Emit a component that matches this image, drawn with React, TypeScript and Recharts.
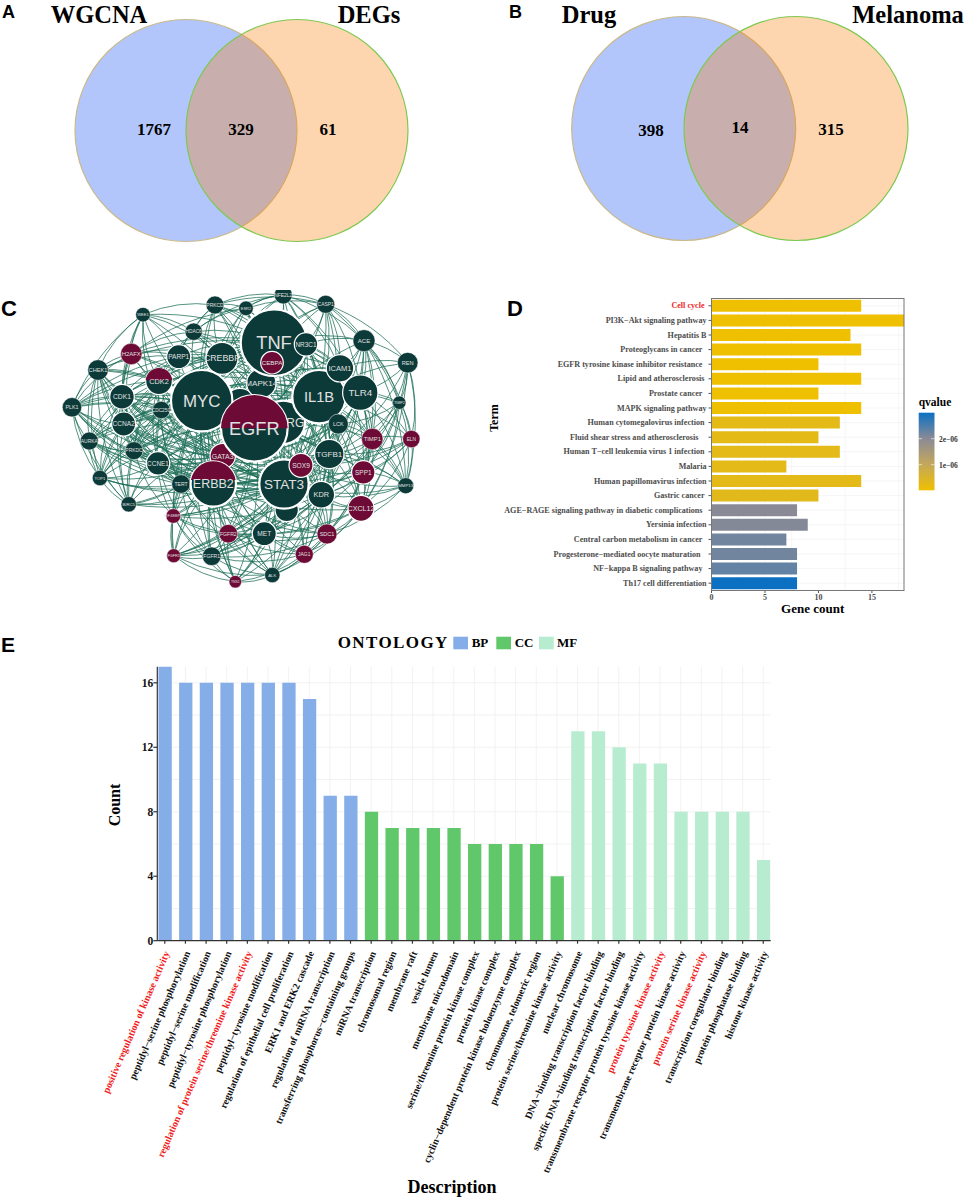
import React from 'react';
import {
  BarChart, Bar, Cell, XAxis, YAxis, ZAxis, CartesianGrid, ScatterChart, Scatter, ReferenceLine,
} from 'recharts';

const SERIF = '"Liberation Serif", serif';
const SANS = '"Liberation Sans", sans-serif';

// Panels A, B: venn sets (x, y in picture px, radius)
const vennLeft = [{ x: 186, y: 130.5, z: 111 * 111 }, { x: 683.7, y: 128.5, z: 112 * 112 }];
const vennRight = [{ x: 297, y: 130.5, z: 111 * 111 }, { x: 796, y: 128.5, z: 112 * 112 }];

// Panel C: network
const nodeNames = ['', '', 'NFE2L2', 'CASP1', 'PRKCD', 'ESR2', 'WEE1', 'HDAC6', 'RG', 'MAPK14', 'TNF', 'NR3C1', 'CEBPA', 'ACE', 'REN', 'H2AFX', 'PARP1', 'CREBBP', 'CHEK1', 'IL1B', 'ICAM1', 'TLR4', 'CDK2', 'MYC', 'CDK1', 'PLK1', 'TIMP2', 'CDC25C', 'GATA3', 'EGFR', 'CCNA2', 'LCK', 'TIMP1', 'ELN', 'AURKA', 'PRKDC', 'TGFB1', 'CCNE1', 'STAT3', 'SOX9', 'SPP1', 'TOP1', 'TERT', 'ERBB2', 'MMP13', 'KDR', 'BIRC5', 'CXCL12', 'EIF4EBP1', 'FGFR2', 'MET', 'SDC1', 'FGFR3', 'FGFR1', 'JAG1', 'ALK', 'TNS1'];
const nodeX = [240, 286.7, 283.3, 325.7, 215, 246, 143, 193.7, 283.3, 261.3, 274, 306, 272, 364, 407.7, 131.3, 178.7, 222, 98, 319, 340, 360.3, 159, 201.7, 122, 72, 399.3, 161.3, 222.7, 254.3, 123.7, 338.3, 372.3, 411.3, 89.3, 134, 329.3, 158, 284, 301, 363.3, 100, 181, 213.3, 405.7, 321.3, 128.7, 361, 173.3, 228.3, 264.3, 327, 173.7, 211.7, 304.3, 272.3, 235.3];
const nodeY = [403.3, 510, 295, 304.3, 305, 308.3, 314.7, 331.7, 422.3, 383.3, 342.7, 344.3, 362.7, 340.7, 362.7, 354, 356.7, 358.3, 370, 396.7, 368.3, 392.7, 381.3, 400.7, 396.7, 407.3, 402.7, 410, 456, 428.3, 424, 424, 439, 439, 441, 450.7, 454, 463.3, 484, 465.3, 472.3, 478, 484, 484, 485.7, 494.7, 504.3, 508.3, 516, 533.7, 533.7, 534, 555.7, 556.3, 554.3, 575, 581.7];
const nodeRadius = [15, 11.7, 9, 9, 9, 7.3, 7.3, 8.7, 21.7, 14.7, 33.3, 11.7, 11.3, 11, 10.3, 10.7, 12, 16, 10.3, 26.7, 13.7, 17.7, 13.3, 30.7, 12.3, 9.7, 6.7, 8.7, 12.7, 33.3, 12, 10, 10.7, 8.7, 9, 9, 14.7, 11.7, 24.7, 12, 11.7, 7.7, 9.3, 22.7, 8, 13.3, 7.7, 13, 7.3, 9.3, 12, 10, 7, 9.3, 9, 7.7, 6.3];
const maroonNodes = ['CEBPA', 'H2AFX', 'GATA3', 'TIMP1', 'ELN', 'SOX9', 'SPP1', 'CXCL12', 'EIF4EBP1', 'FGFR2', 'SDC1', 'FGFR3', 'JAG1', 'TNS1'];
const splitNodes: Record<string, number> = { EGFR: 0, CDK2: -1, ERBB2: -4 };

const edgeLists = [
  'PLK1: CHEK1 CDK1 CCNA2 CDK2 AURKA PRKDC CCNE1 CDC25C MYC EGFR TOP1 BIRC5 WEE1 H2AFX PARP1 STAT3 ERBB2 GATA3 TERT CREBBP',
  'AURKA: CDK1 CCNA2 CDK2 MYC EGFR TOP1 BIRC5 STAT3 ERBB2 CCNE1 CHEK1 TERT PRKDC GATA3 TNF IL1B',
  'CHEK1: WEE1 CDK1 CCNA2 CDK2 H2AFX PARP1 MYC EGFR CCNE1 PRKDC TOP1 BIRC5 TERT CDC25C ERBB2 STAT3 GATA3 TNF',
  'WEE1: CDK1 CDK2 H2AFX PARP1 CCNA2 EGFR MYC HDAC6 TNF CREBBP PRKCD CDC25C',
  'H2AFX: PARP1 CDK2 CDK1 CCNA2 MYC EGFR TNF CREBBP PRKDC STAT3 HDAC6 ESR2',
  'PARP1: CREBBP CDK2 CDK1 MYC EGFR TNF HDAC6 PRKCD STAT3 ERBB2 IL1B CCNE1 MAPK14',
  'HDAC6: PRKCD ESR2 CREBBP TNF MYC EGFR STAT3 CDK2 IL1B MAPK14',
  'PRKCD: ESR2 TNF CREBBP MYC EGFR STAT3 MAPK14 IL1B ERBB2 CASP1 TLR4',
  'ESR2: TNF EGFR MYC CREBBP ERBB2 STAT3 IL1B MAPK14 NFE2L2 CASP1',
  'NFE2L2: CASP1 TNF EGFR MYC IL1B STAT3 NR3C1 CREBBP ESR2 PRKCD ICAM1 ACE TLR4 HDAC6',
  'CASP1: TNF IL1B TLR4 ICAM1 ACE MAPK14 EGFR MYC NR3C1 STAT3 REN TIMP2 TGFB1',
  'ACE: REN ICAM1 TLR4 IL1B TNF EGFR TIMP1 TGFB1 SPP1 KDR ELN TIMP2 STAT3 NR3C1 MMP13',
  'REN: TLR4 TIMP2 ELN ICAM1 IL1B TGFB1 MMP13 TIMP1 SPP1 CXCL12',
  'TIMP2: ELN TIMP1 MMP13 SPP1 TGFB1 TLR4 IL1B KDR CXCL12 LCK',
  'ELN: TIMP1 MMP13 SPP1 CXCL12 TGFB1 TLR4 IL1B KDR SOX9 STAT3',
  'MMP13: TIMP1 SPP1 CXCL12 TGFB1 KDR STAT3 SDC1 IL1B EGFR TLR4 SOX9 LCK',
  'TIMP1: SPP1 TGFB1 CXCL12 IL1B TLR4 TNF EGFR STAT3 KDR MET SDC1 ICAM1 LCK',
  'SPP1: TGFB1 CXCL12 IL1B TLR4 EGFR STAT3 KDR SDC1 MET ICAM1 SOX9 JAG1 ERBB2',
  'CXCL12: KDR STAT3 TGFB1 EGFR IL1B MET SDC1 JAG1 ERBB2 TNF FGFR2 ALK TLR4',
  'SDC1: JAG1 MET KDR STAT3 EGFR ERBB2 FGFR2 FGFR1 TGFB1 ALK IL1B MYC SOX9',
  'JAG1: MET ALK STAT3 EGFR KDR ERBB2 FGFR1 MYC FGFR2 TNS1 SOX9 TGFB1',
  'ALK: MET FGFR1 FGFR2 STAT3 EGFR ERBB2 KDR TNS1 MYC FGFR3 TERT TGFB1 SOX9 GATA3',
  'TNS1: FGFR1 FGFR2 FGFR3 MET EGFR ERBB2 STAT3 GATA3 MYC EIF4EBP1 KDR SOX9',
  'FGFR1: FGFR2 FGFR3 MET EGFR ERBB2 STAT3 EIF4EBP1 MYC TERT KDR GATA3 CCNE1 TGFB1 SOX9',
  'FGFR3: FGFR2 EIF4EBP1 EGFR ERBB2 STAT3 MET TERT MYC GATA3 TGFB1 KDR SOX9',
  'FGFR2: MET EIF4EBP1 EGFR ERBB2 STAT3 KDR GATA3 TERT MYC TGFB1 SOX9',
  'EIF4EBP1: EGFR ERBB2 MYC STAT3 TERT GATA3 MET TNF KDR CCNE1 PRKDC TGFB1 SOX9',
  'MET: EGFR ERBB2 STAT3 KDR MYC GATA3 TGFB1 SOX9 TERT IL1B TNF',
  'BIRC5: TOP1 MYC EGFR CDK1 CCNA2 CCNE1 STAT3 TERT PRKDC CDK2 ERBB2 GATA3 SOX9',
  'TOP1: CDK1 CCNA2 CCNE1 EGFR MYC PRKDC TERT CDK2 STAT3 CDC25C ERBB2 GATA3 TNF',
  'CDK1: CCNA2 CDK2 CCNE1 CDC25C MYC EGFR PRKDC STAT3 ERBB2 TERT TNF GATA3 CREBBP SOX9 KDR TGFB1',
  'CCNA2: CDK2 CCNE1 CDC25C MYC EGFR PRKDC STAT3 TERT ERBB2 GATA3 TNF IL1B SOX9 KDR TGFB1 LCK MAPK14 CREBBP',
  'CDK2: CCNE1 CDC25C MYC EGFR PRKDC STAT3 ERBB2 TERT CREBBP TNF GATA3 IL1B TLR4',
  'CDC25C: CCNE1 MYC EGFR PRKDC STAT3 ERBB2 TERT GATA3 TNF IL1B CREBBP SOX9 KDR TGFB1 MAPK14 LCK',
  'PRKDC: CCNE1 MYC EGFR STAT3 ERBB2 TERT GATA3 TNF IL1B SOX9 KDR CREBBP MAPK14 LCK TLR4',
  'CCNE1: MYC EGFR STAT3 ERBB2 TERT GATA3 TNF IL1B TGFB1 KDR SOX9 MAPK14 LCK TLR4 CREBBP',
  'TERT: MYC EGFR STAT3 ERBB2 GATA3 TNF KDR TGFB1 IL1B SOX9 SDC1',
  'CREBBP: MYC EGFR TNF MAPK14 STAT3 IL1B TLR4 ERBB2 GATA3 ICAM1 TGFB1 KDR SOX9 NR3C1',
  'MYC: TNF MAPK14 EGFR STAT3 IL1B TLR4 ERBB2 GATA3 TGFB1 KDR SOX9 ICAM1 LCK RG',
  'MAPK14: TNF EGFR STAT3 IL1B TLR4 ERBB2 ICAM1 TGFB1 KDR SOX9 LCK CEBPA NR3C1 GATA3',
  'TNF: EGFR STAT3 IL1B TLR4 ERBB2 ICAM1 TGFB1 KDR LCK RG SOX9 GATA3',
  'NR3C1: EGFR IL1B STAT3 TLR4 ICAM1 TGFB1 KDR CEBPA LCK RG',
  'IL1B: EGFR STAT3 TLR4 ERBB2 ICAM1 TGFB1 KDR SOX9 LCK GATA3',
  'ICAM1: TLR4 EGFR STAT3 TGFB1 LCK KDR ERBB2 SOX9',
  'TLR4: EGFR STAT3 TGFB1 LCK KDR ERBB2 SOX9 GATA3',
  'LCK: EGFR STAT3 TGFB1 KDR ERBB2 SOX9 GATA3',
  'TGFB1: EGFR STAT3 KDR ERBB2 SOX9 GATA3',
  'KDR: EGFR STAT3 ERBB2 SOX9 GATA3',
  'SOX9: EGFR STAT3 ERBB2 GATA3',
  'STAT3: EGFR ERBB2 GATA3',
  'ERBB2: EGFR GATA3',
];

// Panel D: KEGG terms
const keggTerms = ['Cell cycle\u00a0', 'PI3K\u2212Akt signaling pathway', 'Hepatitis B', 'Proteoglycans in cancer\u00a0\u00a0', 'EGFR tyrosine kinase inhibitor resistance\u00a0\u00a0', 'Lipid and atherosclerosis\u00a0', 'Prostate cancer\u00a0\u00a0', 'MAPK signaling pathway', 'Human cytomegalovirus infection\u00a0', 'Fluid shear stress and atherosclerosis\u00a0\u00a0\u00a0\u00a0', 'Human T\u2212cell leukemia virus 1 infection\u00a0', 'Malaria', 'Human papillomavirus infection', 'Gastric cancer\u00a0', 'AGE\u2212RAGE signaling pathway in diabetic complications\u00a0\u00a0', 'Yersinia infection', 'Central carbon metabolism in cancer\u00a0\u00a0', 'Progesterone\u2212mediated oocyte maturation\u00a0\u00a0\u00a0', 'NF\u2212kappa B signaling pathway\u00a0\u00a0', 'Th17 cell differentiation'];
const keggCounts = [14, 18, 13, 14, 10, 14, 10, 14, 12, 10, 12, 7, 14, 10, 8, 9, 7, 8, 8, 8];
const keggQvalues = [0, 0, 0, 0, 0, 0, 0, 0, 2.5e-7, 2.5e-7, 2.7e-7, 2.7e-7, 2.7e-7, 3e-7, 2.0e-6, 2.05e-6, 2.2e-6, 2.2e-6, 2.3e-6, 3e-6];
const keggRed = ['Cell cycle\u00a0'];
const qTicks = ['2e\u221206', '1e\u221206'];
const qStops = ['#efc000', '#c4a85a', '#8a8a96', '#0b70c2'];

// Panel E: GO terms
const goTerms = ['positive regulation of kinase activity', 'peptidyl\u2212serine phosphorylation', 'peptidyl\u2212serine modification', 'peptidyl\u2212tyrosine phosphorylation', 'regulation of protein serine/threonine kinase activity', 'peptidyl\u2212tyrosine modification', 'regulation of epithelial cell proliferation', 'ERK1 and ERK2 cascade', 'regulation of miRNA transcription', 'transferring phosphorus\u2212containing groups', 'miRNA transcription', 'chromosomal region', 'membrane raft', 'vesicle lumen', 'membrane microdomain', 'serine/threonine protein kinase complex', 'protein kinase complex', 'cyclin\u2212dependent protein kinase holoenzyme complex', 'chromosome, telomeric region', 'protein serine/threonine kinase activity', 'nuclear chromosome', 'DNA\u2212binding transcription factor binding', 'specific DNA\u2212binding transcription factor binding', 'transmembrane receptor protein tyrosine kinase activity', 'protein tyrosine kinase activity', 'transmembrane receptor protein kinase activity', 'protein serine kinase activity', 'transcription coregulator binding', 'protein phosphatase binding', 'histone kinase activity'];
const bpCounts = [17, 16, 16, 16, 16, 16, 16, 15, 9, 9];
const ccCounts = [8, 7, 7, 7, 7, 6, 6, 6, 6, 4];
const mfCounts = [13, 13, 12, 11, 11, 8, 8, 8, 8, 5];
const goRed = ['positive regulation of kinase activity', 'regulation of protein serine/threonine kinase activity', 'protein tyrosine kinase activity', 'protein serine kinase activity'];
const goColors = { BP: '#85aee8', CC: '#60c76b', MF: '#b7ecd0' };

const hex = (c: string) => [1, 3, 5].map((i) => parseInt(c.slice(i, i + 2), 16));
function qColor(q: number) {
  const t = Math.min(2.999, (q / 3e-6) * 3);
  const i = Math.floor(t);
  const a = hex(qStops[i]);
  const b = hex(qStops[i + 1]);
  const m = a.map((v, k) => Math.round(v + (b[k] - v) * (t - i)));
  return `rgb(${m.join(',')})`;
}

const nodes = nodeNames.map((name, i) => ({ name, x: nodeX[i], y: nodeY[i], z: nodeRadius[i] * nodeRadius[i] }));
const nodeByName: Record<string, (typeof nodes)[number]> = {};
nodes.forEach((n) => { if (n.name) nodeByName[n.name] = n; });
const edges = edgeLists.flatMap((row) => {
  const [from, rest] = row.split(': ');
  return rest.split(' ').map((to) => [nodeByName[from], nodeByName[to]]);
}).filter(([a, b]) => a && b);

const keggData = keggTerms.map((term, i) => ({ term, count: keggCounts[i], q: keggQvalues[i] }));
const goCounts = [...bpCounts, ...ccCounts, ...mfCounts];
const goData = goTerms.map((term, i) => ({
  idx: i + 1,
  term,
  bp: i < 10 ? goCounts[i] : 0,
  cc: i >= 10 && i < 20 ? goCounts[i] : 0,
  mf: i >= 20 ? goCounts[i] : 0,
}));

// bows every edge away from the middle of the network
function EdgeCurve(props: any) {
  const { x1, y1, x2, y2 } = props;
  const mx = (x1 + x2) / 2;
  const my = (y1 + y2) / 2;
  const dx = x2 - x1;
  const dy = y2 - y1;
  let nx = -dy * 0.14;
  let ny = dx * 0.14;
  if ((mx - 240) * nx + (my - 150) * ny < 0) { nx = -nx; ny = -ny; }
  return <path d={`M${x1},${y1}Q${mx + nx},${my + ny} ${x2},${y2}`} fill="none" stroke="#1c6f57" strokeWidth={0.75} />;
}

function NodeShape(props: any) {
  const { cx, cy, width, payload } = props;
  const r = width / 2;
  const name: string = payload.name;
  const split = splitNodes[name];
  const fill = maroonNodes.includes(name) ? '#6d0a35' : '#0c3a38';
  const w = split === undefined ? 0 : Math.sqrt(r * r - split * split);
  // the RG label is what EGFR leaves showing of this node's name
  const tx = name === 'RG' ? cx + 12 : cx;
  return (
    <g>
      <circle cx={cx} cy={cy} r={r} fill={fill} stroke="#fff" strokeWidth={r > 20 ? 2.2 : r > 11 ? 1.2 : 0.5} />
      {split !== undefined && (
        <path d={`M${cx - w},${cy + split}A${r} ${r} 0 0 1 ${cx + w},${cy + split}Z`} fill="#6d0a35" />
      )}
      <text x={tx} y={cy} dy="0.36em" textAnchor="middle" fontFamily={SANS} fontSize={r * 0.55} fill="#e0e0e0">{name}</text>
    </g>
  );
}

function KeggTick({ x, y, payload }: any) {
  const red = keggRed.includes(payload.value);
  return (
    <text x={x} y={y} dy="0.33em" textAnchor="end" fontFamily={SERIF} fontWeight="bold" fontSize={8.1} fill={red ? '#f01e1e' : '#4d4d4d'}>
      {payload.value}
    </text>
  );
}

function GoTick({ x, y, payload }: any) {
  const term = goTerms[payload.value - 1];
  const tx = x + 2;
  const ty = y + 6;
  return (
    <text x={tx} y={ty} textAnchor="end" dy="0.33em" transform={`rotate(-66.5 ${tx} ${ty})`} fontFamily={SERIF} fontWeight="bold" fontSize={10} fill={goRed.includes(term) ? '#ee1c1c' : '#111'}>
      {term}
    </text>
  );
}

function Letter({ x, y, size = 18, children }: any) {
  return <text x={x} y={y} fontFamily={SANS} fontWeight="bold" fontSize={size} fill="#000">{children}</text>;
}

function Serif({ x, y, size, anchor = 'middle', fill = '#000', children, ...rest }: any) {
  return <text x={x} y={y} fontFamily={SERIF} fontWeight="bold" fontSize={size} textAnchor={anchor} fill={fill} {...rest}>{children}</text>;
}

const abs = (left: number, top: number): React.CSSProperties => ({ position: 'absolute', left, top });

function Overlay() {
  return (
    <svg width={969} height={1198} style={{ ...abs(0, 0), pointerEvents: 'none' }}>
      <defs>
        <linearGradient id="qGrad" x1="0" y1="1" x2="0" y2="0">
          {qStops.map((c, i) => <stop key={c} offset={`${(i / 3) * 100}%`} stopColor={c} />)}
        </linearGradient>
      </defs>
      <Letter x={2} y={18}>A</Letter>
      <Letter x={509} y={18}>B</Letter>
      <Letter x={1} y={316} size={22}>C</Letter>
      <Letter x={507} y={316} size={22}>D</Letter>
      <Letter x={1} y={652} size={21}>E</Letter>

      <Serif x={99} y={23} size={24.5}>WGCNA</Serif>
      <Serif x={369} y={23} size={24.5}>DEGs</Serif>
      <Serif x={589} y={23} size={24.5}>Drug</Serif>
      <Serif x={908} y={23} size={24.5}>Melanoma</Serif>
      <Serif x={154} y={135} size={17}>1767</Serif>
      <Serif x={241} y={135} size={17}>329</Serif>
      <Serif x={328} y={135} size={17}>61</Serif>
      <Serif x={651} y={136} size={17}>398</Serif>
      <Serif x={740} y={133} size={17}>14</Serif>
      <Serif x={831} y={135} size={17}>315</Serif>

      <rect x={711.5} y={298.5} width={192.5} height={292} fill="none" stroke="#777" strokeWidth={1} />
      <Serif x={0} y={0} size={12} transform="translate(498 418) rotate(-90)">Term</Serif>
      <Serif x={812.7} y={613} size={13}>Gene count</Serif>
      <Serif x={918.7} y={406} size={11.5} anchor="start">qvalue</Serif>
      <rect x={918.7} y={412.7} width={15.8} height={77.6} fill="url(#qGrad)" />
      <line x1={918.7} x2={922} y1={438.7} y2={438.7} stroke="#fff" strokeWidth={0.6} />
      <line x1={931} x2={934.5} y1={438.7} y2={438.7} stroke="#fff" strokeWidth={0.6} />
      <line x1={918.7} x2={922} y1={464.7} y2={464.7} stroke="#fff" strokeWidth={0.6} />
      <line x1={931} x2={934.5} y1={464.7} y2={464.7} stroke="#fff" strokeWidth={0.6} />
      <Serif x={939} y={441.5} size={7.5} anchor="start" fill="#333">{qTicks[0]}</Serif>
      <Serif x={939} y={467.5} size={7.5} anchor="start" fill="#333">{qTicks[1]}</Serif>

      <Serif x={337.7} y={647.5} size={17} anchor="start" letterSpacing={1.4}>ONTOLOGY</Serif>
      <rect x={453.3} y={636.7} width={14.7} height={12.6} fill={goColors.BP} />
      <Serif x={471.7} y={646.5} size={13} anchor="start">BP</Serif>
      <rect x={496.3} y={636.7} width={14.7} height={12.6} fill={goColors.CC} />
      <Serif x={514.7} y={646.5} size={13} anchor="start">CC</Serif>
      <rect x={539} y={636.7} width={14.7} height={12.6} fill={goColors.MF} />
      <Serif x={557} y={646.5} size={13} anchor="start">MF</Serif>

      <Serif x={0} y={0} size={16} transform="translate(120 805) rotate(-90)">Count</Serif>
      <Serif x={452} y={1193} size={18}>Description</Serif>
    </svg>
  );
}

export default function App() {
  return (
    <div style={{ ...abs(0, 0), width: 969, height: 1198, background: '#fff', overflow: 'hidden' }}>
      {/* A, B */}
      <div style={abs(0, 0)}>
        <ScatterChart width={969} height={290} margin={{ top: 0, right: 0, bottom: 0, left: 0 }}>
          <XAxis type="number" dataKey="x" domain={[0, 969]} hide />
          <YAxis type="number" dataKey="y" domain={[0, 290]} reversed hide width={0} />
          <ZAxis type="number" dataKey="z" domain={[0, 14000]} range={[0, Math.PI * 14000]} />
          <Scatter data={vennLeft} fill="#114df2" fillOpacity={0.32} stroke="#c9b98a" strokeWidth={1.2} isAnimationActive={false} />
          <Scatter data={vennRight} fill="#f97f08" fillOpacity={0.32} stroke="#7ec850" strokeWidth={1.2} isAnimationActive={false} />
        </ScatterChart>
      </div>

      {/* C */}
      <div style={abs(0, 290)}>
        <ScatterChart width={440} height={320} margin={{ top: 0, right: 0, bottom: 0, left: 0 }}>
          <XAxis type="number" dataKey="x" domain={[0, 440]} hide />
          <YAxis type="number" dataKey="y" domain={[290, 610]} reversed hide width={0} />
          <ZAxis type="number" dataKey="z" domain={[0, 1200]} range={[0, Math.PI * 1200]} />
          {edges.map(([a, b], i) => (
            <ReferenceLine key={i} segment={[{ x: a.x, y: a.y }, { x: b.x, y: b.y }]} shape={EdgeCurve} />
          ))}
          <Scatter data={nodes} shape={NodeShape} isAnimationActive={false} />
        </ScatterChart>
      </div>

      {/* D */}
      <div style={abs(490, 290)}>
        <BarChart width={420} height={335} data={keggData} layout="vertical" barCategoryGap="9%" margin={{ top: 8.5, right: 6, bottom: 0, left: 0 }}>
          <CartesianGrid stroke="#f0f0f0" strokeWidth={0.7} verticalValues={[2.5, 5, 7.5, 10, 12.5, 15, 17.5]} />
          <XAxis type="number" dataKey="count" domain={[0, 18]} ticks={[0, 5, 10, 15]} height={34.5} tickSize={2.5} tickMargin={1} axisLine={false} stroke="#555" tick={{ fontFamily: SERIF, fontWeight: 'bold', fontSize: 8, fill: '#4d4d4d' }} />
          <YAxis type="category" dataKey="term" width={221.5} interval={0} tickSize={3} tickMargin={2} axisLine={false} stroke="#555" tick={<KeggTick />} />
          <Bar dataKey="count" isAnimationActive={false}>
            {keggData.map((d) => <Cell key={d.term} fill={qColor(d.q)} />)}
          </Bar>
        </BarChart>
      </div>

      {/* E */}
      <div style={abs(90, 660)}>
        <BarChart width={700} height={538} data={goData} barSize={13.3} margin={{ top: 6.7, right: 19.3, bottom: 0, left: 0 }}>
          <CartesianGrid stroke="#f1f1f1" strokeWidth={0.9} horizontalValues={[2, 4, 6, 8, 10, 12, 14, 16]} verticalValues={goData.map((d) => d.idx)} />
          <XAxis type="number" dataKey="idx" domain={[0.637, 30.36]} allowDataOverflow ticks={goData.map((d) => d.idx)} interval={0} height={257.3} tickSize={3} stroke="#333" strokeWidth={1.2} tick={<GoTick />} />
          <YAxis type="number" domain={[0, 17]} ticks={[0, 4, 8, 12, 16]} width={67.3} tickSize={4} tickMargin={0} stroke="#333" strokeWidth={1.2} tick={{ fontFamily: SERIF, fontWeight: 'bold', fontSize: 11.5, fill: '#111' }} />
          <Bar dataKey="bp" stackId="go" fill={goColors.BP} isAnimationActive={false} />
          <Bar dataKey="cc" stackId="go" fill={goColors.CC} isAnimationActive={false} />
          <Bar dataKey="mf" stackId="go" fill={goColors.MF} isAnimationActive={false} />
        </BarChart>
      </div>

      <Overlay />
    </div>
  );
}
